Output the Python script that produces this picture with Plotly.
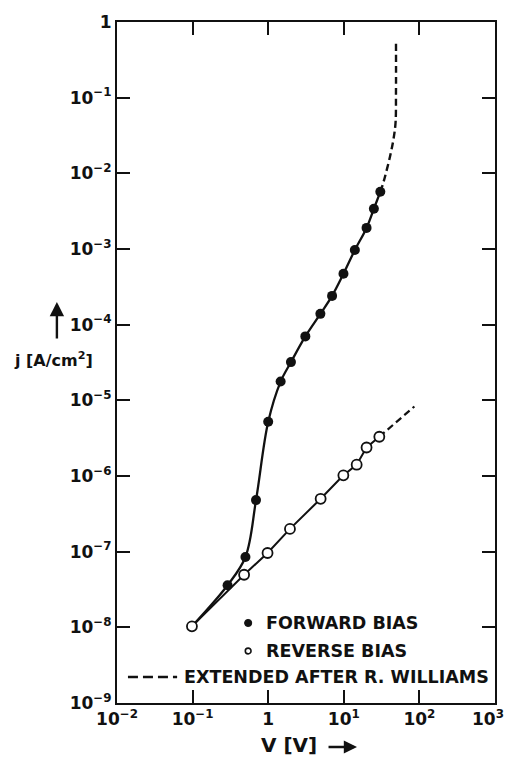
import plotly.graph_objects as go

# ---------------- data ----------------
# Forward bias measured points (filled circles)
fwd_v = [0.29, 0.50, 0.69, 1.00, 1.46, 2.0, 3.1, 4.9, 7.0, 9.9, 14.0, 20.0, 25.0, 30.4]
fwd_j = [3.6e-8, 8.5e-8, 4.8e-7, 5.2e-6, 1.77e-5, 3.2e-5, 7.0e-5, 1.39e-4,
         2.4e-4, 4.7e-4, 9.7e-4, 1.9e-3, 3.4e-3, 5.7e-3]
# Forward curve start (common origin with reverse curve)
start_v = [0.098]
start_j = [1.03e-8]
# Forward extension after R. Williams (dashed)
fwd_ext_v = [30.4, 33.3, 36.1, 40.8, 45.2, 48.3, 49.0, 49.0]
fwd_ext_j = [5.7e-3, 7.5e-3, 1.01e-2, 1.66e-2, 2.76e-2, 4.6e-2, 0.12, 0.58]

# Reverse bias measured points (open circles)
rev_v = [0.098, 0.48, 0.98, 1.94, 4.94, 9.87, 14.8, 20.0, 29.5]
rev_j = [1.03e-8, 4.95e-8, 9.6e-8, 2.0e-7, 5.0e-7, 1.02e-6, 1.41e-6, 2.38e-6, 3.3e-6]
# Reverse extension (dashed)
rev_ext_v = [29.5, 85.8]
rev_ext_j = [3.3e-6, 8.3e-6]

x_tickvals = [1e-2, 1e-1, 1, 1e1, 1e2, 1e3]
x_ticktext = ["10<sup>−2</sup>", "10<sup>−1</sup>", "1", "10<sup>1</sup>", "10<sup>2</sup>", "10<sup>3</sup>"]
y_tickvals = [1, 1e-1, 1e-2, 1e-3, 1e-4, 1e-5, 1e-6, 1e-7, 1e-8, 1e-9]
y_ticktext = ["1"] + ["10<sup>−%d</sup>" % k for k in range(1, 10)]

legend_labels = ["FORWARD BIAS", "REVERSE BIAS", "EXTENDED AFTER R. WILLIAMS"]

FONT = "DejaVu Sans"
BLACK = "#111111"

fig = go.Figure()

# forward solid curve
fig.add_trace(go.Scatter(
    x=start_v + fwd_v, y=start_j + fwd_j, mode="lines",
    line=dict(color=BLACK, width=2.3, shape="spline", smoothing=1.0),
    showlegend=False, hoverinfo="skip"))
# forward dashed extension
fig.add_trace(go.Scatter(
    x=fwd_ext_v, y=fwd_ext_j, mode="lines",
    line=dict(color=BLACK, width=2.4, dash="7px,4px", shape="spline", smoothing=1.0),
    showlegend=False, hoverinfo="skip"))
# reverse solid line
fig.add_trace(go.Scatter(
    x=rev_v, y=rev_j, mode="lines",
    line=dict(color=BLACK, width=2.0),
    showlegend=False, hoverinfo="skip"))
# reverse dashed extension
fig.add_trace(go.Scatter(
    x=rev_ext_v, y=rev_ext_j, mode="lines",
    line=dict(color=BLACK, width=2.2, dash="7px,4px"),
    showlegend=False, hoverinfo="skip"))
# forward markers
fig.add_trace(go.Scatter(
    x=fwd_v, y=fwd_j, mode="markers",
    marker=dict(symbol="circle", size=10, color=BLACK, line=dict(width=0)),
    showlegend=False))
# reverse markers
fig.add_trace(go.Scatter(
    x=rev_v, y=rev_j, mode="markers",
    marker=dict(symbol="circle", size=10, color="white", line=dict(width=1.8, color=BLACK)),
    showlegend=False))

# ---------------- legend (drawn inside the plot) ----------------
leg_font = dict(family=FONT, size=17.5, color=BLACK, weight="bold")
leg_y = [0.1175, 0.0764, 0.0382]
fig.add_annotation(xref="paper", yref="paper", x=0.389, y=leg_y[0], text=legend_labels[0],
                   showarrow=False, xanchor="left", yanchor="middle", font=leg_font)
fig.add_annotation(xref="paper", yref="paper", x=0.389, y=leg_y[1], text=legend_labels[1],
                   showarrow=False, xanchor="left", yanchor="middle", font=leg_font)
fig.add_annotation(xref="paper", yref="paper", x=0.172, y=leg_y[2], text=legend_labels[2],
                   showarrow=False, xanchor="left", yanchor="middle", font=leg_font)
r = 0.0095
ry = r * 378 / 681
fig.add_shape(type="circle", xref="paper", yref="paper",
              x0=0.347 - r, x1=0.347 + r, y0=leg_y[0] - ry, y1=leg_y[0] + ry,
              fillcolor=BLACK, line=dict(color=BLACK, width=1))
fig.add_shape(type="circle", xref="paper", yref="paper",
              x0=0.347 - r * 0.8, x1=0.347 + r * 0.8, y0=leg_y[1] - ry * 0.8, y1=leg_y[1] + ry * 0.8,
              fillcolor="white", line=dict(color=BLACK, width=1.6))
fig.add_shape(type="line", xref="paper", yref="paper",
              x0=0.029, x1=0.159, y0=leg_y[2], y1=leg_y[2],
              line=dict(color=BLACK, width=2.4, dash="10px,5px"))

# ---------------- axis titles ----------------
fig.add_annotation(xref="paper", yref="paper", x=-0.168, y=0.5037,
                   text="j [A/cm<sup>2</sup>]", showarrow=False,
                   xanchor="center", yanchor="middle",
                   font=dict(family=FONT, size=16, color=BLACK, weight="bold"))
fig.add_annotation(xref="paper", yref="paper", x=-0.159, y=0.589, text="",
                   showarrow=True, arrowhead=2, arrowsize=1.2, arrowwidth=2.4,
                   arrowcolor=BLACK, ax=0, ay=38)
fig.add_annotation(xref="paper", yref="paper", x=0.455, y=-0.0617,
                   text="V [V]", showarrow=False, xanchor="center", yanchor="middle",
                   font=dict(family=FONT, size=20, color=BLACK, weight="bold"))
fig.add_annotation(xref="paper", yref="paper", x=0.635, y=-0.0646, text="",
                   showarrow=True, arrowhead=2, arrowsize=1.1, arrowwidth=2.4,
                   arrowcolor=BLACK, ax=-30, ay=0)

TICKFONT = dict(family=FONT, size=17, color=BLACK, weight="bold")
axis_common = dict(
    type="log", showgrid=False, zeroline=False,
    showline=True, linecolor=BLACK, linewidth=2, mirror="ticks",
    ticks="inside", ticklen=13, tickwidth=1.8, tickcolor=BLACK,
    tickfont=TICKFONT, automargin=False,
)

# last x tick label sits at the page edge: draw it right-aligned so it stays inside
x_ticktext_drawn = x_ticktext[:-1] + [""]
fig.add_annotation(xref="paper", yref="paper", x=1.0, xshift=11, y=0, yshift=-2,
                   text=x_ticktext[-1], showarrow=False, xanchor="right", yanchor="top",
                   font=TICKFONT)

fig.update_xaxes(range=[-2, 3], tickvals=x_tickvals, ticktext=x_ticktext_drawn, **axis_common)
fig.update_yaxes(range=[-9, 0], tickvals=y_tickvals, ticktext=y_ticktext, **axis_common)

fig.update_layout(
    width=507, height=758,
    margin=dict(l=117, r=12, t=22, b=55, autoexpand=False),
    paper_bgcolor="white", plot_bgcolor="white",
    showlegend=False,
)

fig.write_html("out.html")
